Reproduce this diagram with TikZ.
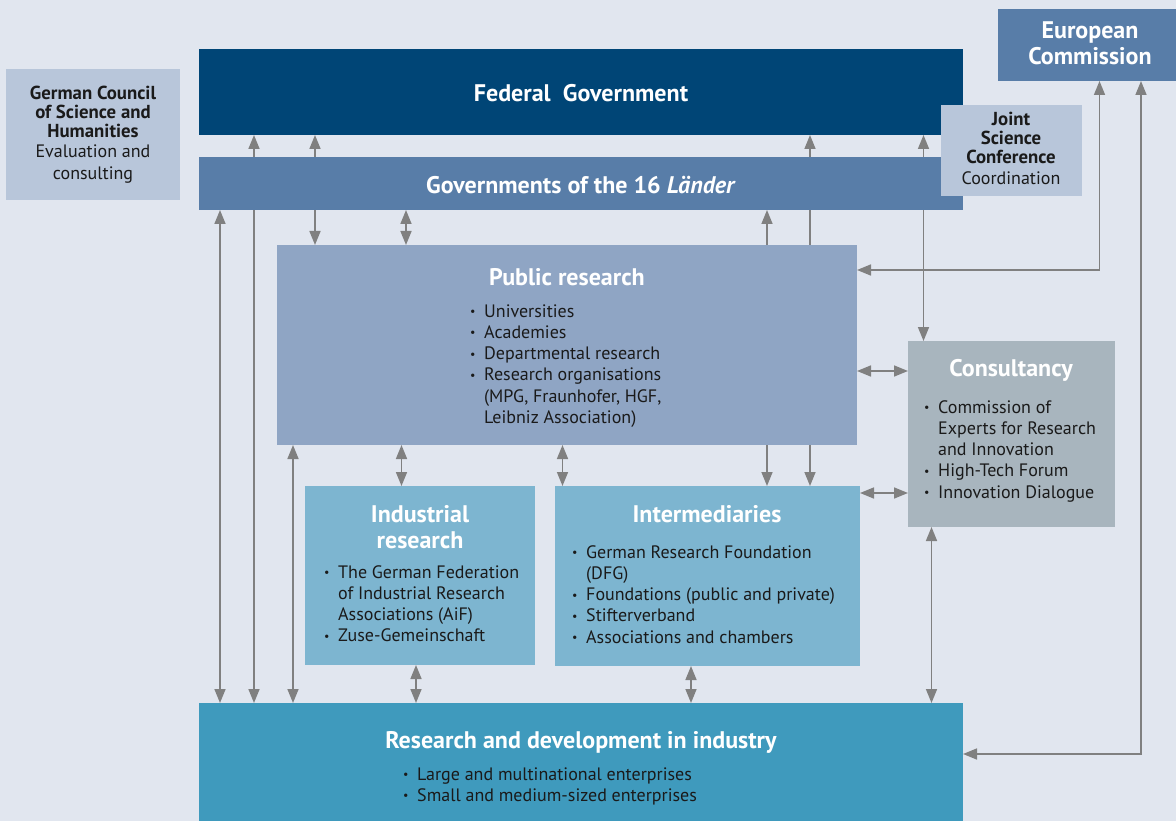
\documentclass[tikz,border=0pt]{standalone}
\usepackage{fontspec}
\setmainfont{PT Sans}
\usetikzlibrary{arrows.meta}

\definecolor{canvas}{HTML}{E1E6EF}
\definecolor{fedblue}{HTML}{004576}
\definecolor{midblue}{HTML}{587DA8}
\definecolor{paleblue}{HTML}{B8C6DA}
\definecolor{pubblue}{HTML}{8FA5C4}
\definecolor{consgrey}{HTML}{A8B5BE}
\definecolor{lightteal}{HTML}{7DB5D0}
\definecolor{tealbox}{HTML}{3F9ABD}
\definecolor{linkgrey}{HTML}{808080}
\definecolor{ink}{HTML}{1A1A1A}

% bullet lists with a hanging indent
\newlength\bulw \setlength\bulw{14pt}
\newcommand\lbul{\makebox[\bulw][l]{\raisebox{1.5pt}{\fontsize{12}{12}\selectfont •}}}
\newcommand\lind{\hspace*{\bulw}}
\newcommand\tlines[2][c]{\begin{tabular}[t]{@{}#1@{}}#2\end{tabular}}

\pgfdeclarelayer{back}
\pgfdeclarelayer{links}
\pgfsetlayers{back,links,main}

\begin{document}
\begin{tikzpicture}[x=1pt,y=-1pt,
  box/.style={rectangle,inner sep=0pt,outer sep=0pt,anchor=north west},
  ttl/.style={text=white,font=\bfseries\fontsize{24}{25.5}\selectfont,inner sep=0pt,anchor=base},
  darkttl/.style={text=ink,font=\bfseries\fontsize{18.8}{18.5}\selectfont,inner sep=0pt,anchor=base},
  note/.style={text=ink,font=\fontsize{18}{22}\selectfont,inner sep=0pt,anchor=base},
  body/.style={text=ink,font=\fontsize{18}{21.3}\selectfont,inner sep=0pt,anchor=base west},
  link/.style={draw=linkgrey,line width=1.6pt,
    {Triangle[length=14pt,width=11pt]}-{Triangle[length=14pt,width=11pt]}}
]
\useasboundingbox (0,0) rectangle (1176,821);
\begin{pgfonlayer}{back}
  \fill[canvas] (0,0) rectangle (1176,821);
\end{pgfonlayer}

% ---------- boxes ----------
\node[box,fill=paleblue,minimum width=174pt,minimum height=131pt] (wr) at (6,69) {};
\node[box,fill=fedblue,minimum width=764pt,minimum height=86pt] (fed) at (199,49) {};
\node[box,fill=midblue,minimum width=764pt,minimum height=53pt] (lan) at (199,157) {};
\node[box,fill=paleblue,minimum width=141pt,minimum height=91pt] (gwk) at (941,105) {};
\node[box,fill=midblue,minimum width=178pt,minimum height=72pt] (ec) at (998,9) {};
\node[box,fill=pubblue,minimum width=580pt,minimum height=200pt] (pr) at (277,245) {};
\node[box,fill=consgrey,minimum width=207pt,minimum height=186pt] (cs) at (908,341) {};
\node[box,fill=lightteal,minimum width=230pt,minimum height=179pt] (ir) at (305,486) {};
\node[box,fill=lightteal,minimum width=305pt,minimum height=180pt] (im) at (555,486) {};
\node[box,fill=tealbox,minimum width=764pt,minimum height=118pt] (rd) at (199,703) {};

% ---------- texts ----------
\node[ttl] (fedt) at (581,101.7) {Federal\ \ Government};
\node[ttl] (lant) at (581,194) {Governments of the 16 \textit{Länder}};
\node[ttl] (ect) at (1090,39) {\tlines{European\\Commission}};

\node[darkttl] (wrt) at (93,100) {\tlines{German Council\\of Science and\\Humanities}};
\node[note] (wrn) at (93,158) {\tlines{Evaluation and\\consulting}};

\node[darkttl] (gwkt) at (1011,126) {\tlines{Joint\\Science\\Conference}};
\node[note] (gwkn) at (1011,185) {Coordination};

\node[ttl] (prt) at (567,286) {Public research};
\node[body] (prl) at (470,317) {\tlines[l]{\lbul Universities\\
  \lbul Academies\\
  \lbul Departmental research\\
  \lbul Research organisations\\
  \lind (MPG, Fraunhofer, HGF,\\
  \lind Leibniz Association)}};

\node[ttl] (cst) at (1011,376) {Consultancy};
\node[body] (csl) at (924,413) {\tlines[l]{\lbul Commission of\\
  \lind Experts for Research\\
  \lind and Innovation\\
  \lbul High-Tech Forum\\
  \lbul Innovation Dialogue}};

\node[ttl] (irt) at (420,522.7) {\tlines{Industrial\\research}};
\node[body] (irl) at (324,578) {\tlines[l]{\lbul The German Federation\\
  \lind of Industrial Research\\
  \lind Associations (AiF)\\
  \lbul Zuse-Gemeinschaft}};

\node[ttl] (imt) at (707,522.7) {Intermediaries};
\node[body] (iml) at (572,558) {\tlines[l]{\lbul German Research Foundation\\
  \lind (DFG)\\
  \lbul Foundations (public and private)\\
  \lbul Stifterverband\\
  \lbul Associations and chambers}};

\node[ttl] (rdt) at (581,748) {Research and development in industry};
\node[body] (rdl) at (403,780) {\tlines[l]{\lbul Large and multinational enterprises\\
  \lbul Small and medium-sized enterprises}};

% ---------- connectors ----------
\coordinate (v220) at (220,0);
\coordinate (v254) at (254,0);
\coordinate (v293) at (293,0);
\coordinate (v315) at (315,0);
\coordinate (v401) at (401.5,0);
\coordinate (v406) at (406,0);
\coordinate (v416) at (416,0);
\coordinate (v562) at (562.5,0);
\coordinate (v691) at (691,0);
\coordinate (v767) at (767,0);
\coordinate (v810) at (810,0);
\coordinate (v923) at (923.5,0);
\coordinate (v931) at (931.5,0);
\coordinate (v1100) at (1099.5,0);
\coordinate (v1141) at (1141,0);
\coordinate (h270) at (0,270);
\coordinate (h371) at (0,371);
\coordinate (h493) at (0,493);
\coordinate (h754) at (0,754);

\begin{pgfonlayer}{links}
  \draw[link] (lan.south -| v220) -- (rd.north -| v220);
  \draw[link] (fed.south -| v254) -- (rd.north -| v254);
  \draw[link] (pr.south -| v293) -- (rd.north -| v293);
  \draw[link] (fed.south -| v315) -- (pr.north -| v315);
  \draw[link] (lan.south -| v406) -- (pr.north -| v406);
  \draw[link] (pr.south -| v401) -- (ir.north -| v401);
  \draw[link] (pr.south -| v562) -- (im.north -| v562);
  \draw[link] (ir.south -| v416) -- (rd.north -| v416);
  \draw[link] (im.south -| v691) -- (rd.north -| v691);
  \draw[link] (lan.south -| v767) -- (im.north -| v767);
  \draw[link] (fed.south -| v810) -- (im.north -| v810);
  \draw[link] (fed.south -| v923) -- (cs.north -| v923);
  \draw[link] (cs.south -| v931) -- (rd.north -| v931);
  \draw[link] (ec.south -| v1100) |- (pr.east |- h270);
  \draw[link] (ec.south -| v1141) |- (rd.east |- h754);
  \draw[link] (pr.east |- h371) -- (cs.west |- h371);
  \draw[link] (im.east |- h493) -- (cs.west |- h493);
\end{pgfonlayer}
\end{tikzpicture}
\end{document}
